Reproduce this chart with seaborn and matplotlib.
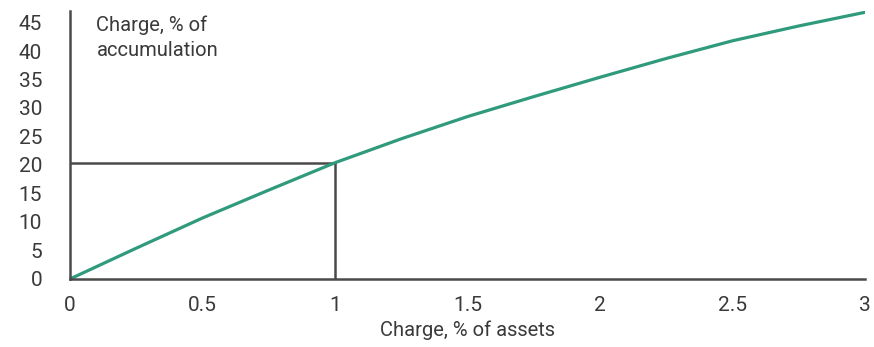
import matplotlib.pyplot as plt
import seaborn as sns
import pandas as pd

# valores
cargo_activos = [0, 0.25, 0.5, 0.75, 1, 1.25, 1.5, 1.75, 2, 2.25, 2.5, 2.75, 3]
cargo_acumulado = [0, 5.4, 10.7, 15.6, 20.4, 24.6, 28.5, 32.0, 35.4, 38.7, 41.8, 44.4, 46.8]
punto_x = 1
punto_y = 20.4
xticks = [0, 0.5, 1, 1.5, 2, 2.5, 3]
yticks = [0, 5, 10, 15, 20, 25, 30, 35, 40, 45]

df = pd.DataFrame({"x": cargo_activos, "y": cargo_acumulado})

sns.set_theme(style="white")
plt.rcParams["font.family"] = ["Roboto", "DejaVu Sans"]

fig = plt.figure(figsize=(8.74, 3.47), dpi=100)
ax = fig.add_axes([0.080, 0.196, 0.910, 0.772])

gris = "#4a4a4a"
texto = "#3a3a3a"
ax.plot([0, punto_x], [punto_y, punto_y], color=gris, lw=1.8)
ax.plot([punto_x, punto_x], [0, punto_y], color=gris, lw=1.8)
sns.lineplot(data=df, x="x", y="y", ax=ax, color="#2f9a7c", lw=2.3)

ax.set_xlim(0, 3)
ax.set_ylim(0, 47)
ax.set_xticks(xticks)
ax.set_xticklabels(["0", "0.5", "1", "1.5", "2", "2.5", "3"])
ax.set_yticks(yticks)
ax.tick_params(axis="both", labelsize=15, colors=gris, labelcolor=texto)
ax.tick_params(axis="y", direction="out", length=7, width=1.5, pad=13)
ax.tick_params(axis="x", direction="inout", length=8, width=1.5, pad=8)

sns.despine(ax=ax)
for lado in ["left", "bottom"]:
    ax.spines[lado].set_color(gris)
    ax.spines[lado].set_linewidth(1.8)

ax.set_xlabel("Charge, % of assets", fontsize=14.5, color=texto, labelpad=4)
ax.set_ylabel("")
ax.text(0.1, 46.3, "Charge, % of\naccumulation", fontsize=14.5, color=texto,
        va="top", ha="left", linespacing=1.45)

fig.savefig("out.png", dpi=100)
